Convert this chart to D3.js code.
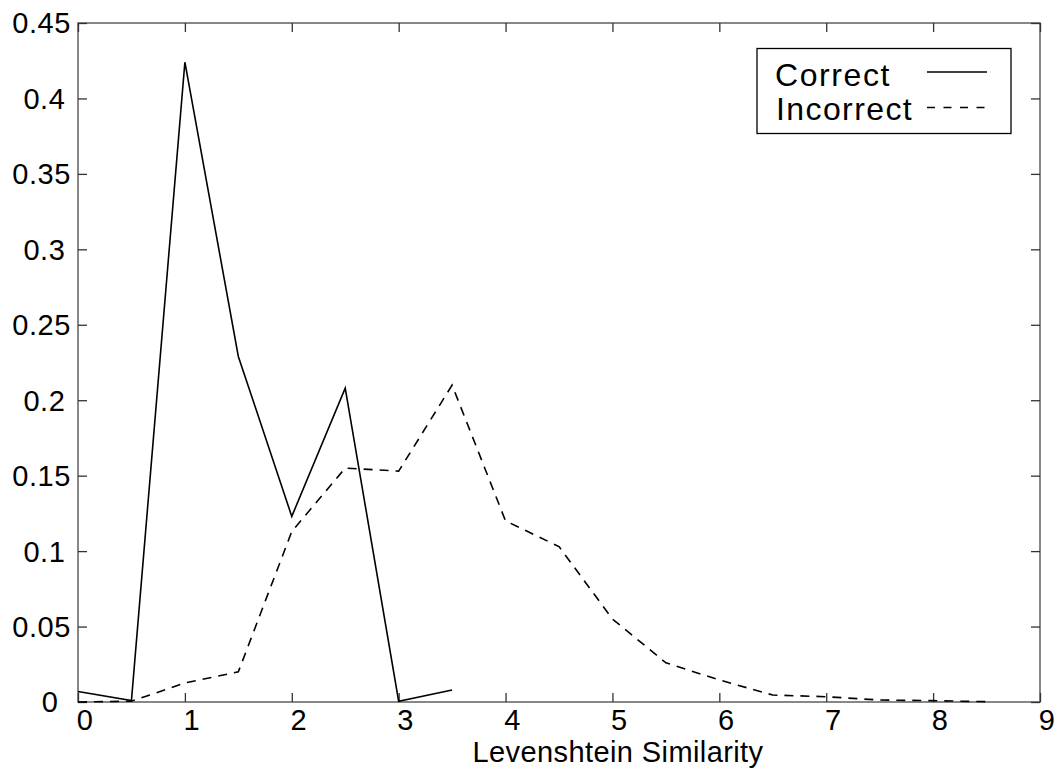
<!DOCTYPE html>
<html>
<head>
<meta charset="utf-8">
<script src="https://cdn.jsdelivr.net/npm/d3@7"></script>
<style>
  html, body { margin: 0; padding: 0; background: #fff; }
  svg text { font-family: "Liberation Sans", Arial, Helvetica, sans-serif; fill: #000; }
</style>
</head>
<body>
<svg id="chart" width="1060" height="772"></svg>
<script>
// Distribution of Levenshtein similarity for correct vs incorrect matches
const xCorrect = [0, 0.5, 1, 1.5, 2, 2.5, 3, 3.5];
const correct = [0.007, 0.0009, 0.424, 0.229, 0.123, 0.208, 0.0005, 0.008];

const xIncorrect = [0, 0.5, 1, 1.5, 2, 2.5, 3, 3.5, 4, 4.5, 5, 5.5, 6, 6.5, 7, 7.5, 8, 8.5];
const incorrect = [0, 0.0005, 0.0126, 0.020, 0.113, 0.155, 0.153, 0.210, 0.120, 0.103,
                   0.055, 0.026, 0.0146, 0.0046, 0.0035, 0.0013, 0.0009, 0.0002];

const xTicks = [0, 1, 2, 3, 4, 5, 6, 7, 8, 9];
const yTicks = [0, 0.05, 0.1, 0.15, 0.2, 0.25, 0.3, 0.35, 0.4, 0.45];
const yTickLabels = ["0", "0.05", "0.1", "0.15", "0.2", "0.25", "0.3", "0.35", "0.4", "0.45"];

const seriesNames = ["Correct", "Incorrect"];
const xTitle = "Levenshtein Similarity";

const svg = d3.select("#chart");
const plotLeft = 78, plotRight = 1040, plotTop = 23, plotBottom = 702;

const x = d3.scaleLinear().domain([0, 9]).range([plotLeft, plotRight]);
const y = d3.scaleLinear().domain([0, 0.45]).range([plotBottom, plotTop]);

const frameColor = "#606060";
const tickLen = 9;

// frame
svg.append("rect")
  .attr("x", plotLeft).attr("y", plotTop)
  .attr("width", plotRight - plotLeft).attr("height", plotBottom - plotTop)
  .attr("fill", "none").attr("stroke", frameColor).attr("stroke-width", 1.5);

// inward ticks on all four sides
function styleAxis(g) {
  g.select(".domain").remove();
  g.selectAll(".tick line").attr("stroke", "#333").attr("stroke-width", 1.3);
  g.selectAll(".tick text").remove();
}
svg.append("g").attr("transform", `translate(0,${plotBottom})`)
  .call(d3.axisBottom(x).tickValues(xTicks).tickSize(-tickLen)).call(styleAxis);
svg.append("g").attr("transform", `translate(0,${plotTop})`)
  .call(d3.axisTop(x).tickValues(xTicks).tickSize(-tickLen)).call(styleAxis);
svg.append("g").attr("transform", `translate(${plotLeft},0)`)
  .call(d3.axisLeft(y).tickValues(yTicks).tickSize(-tickLen)).call(styleAxis);
svg.append("g").attr("transform", `translate(${plotRight},0)`)
  .call(d3.axisRight(y).tickValues(yTicks).tickSize(-tickLen)).call(styleAxis);

// tick labels
svg.append("g").selectAll("text").data(xTicks).join("text")
  .attr("x", d => x(d) + 7)
  .attr("y", 730)
  .attr("text-anchor", "middle")
  .attr("font-size", 29)
  .attr("letter-spacing", 0.5)
  .text(d => d);

svg.append("g").selectAll("text").data(yTicks).join("text")
  .attr("x", (d, i) => 50 - 2.8 * (yTickLabels[i].length - 1))
  .attr("y", d => y(d))
  .attr("dy", "0.36em")
  .attr("text-anchor", "middle")
  .attr("font-size", 29)
  .attr("letter-spacing", 0.5)
  .text((d, i) => yTickLabels[i]);

// axis title
svg.append("text")
  .attr("x", 618).attr("y", 762)
  .attr("text-anchor", "middle")
  .attr("font-size", 29)
  .attr("letter-spacing", 0.4)
  .text(xTitle);

// series lines
const line = d3.line().x(d => x(d[0])).y(d => y(d[1]));
svg.append("path")
  .datum(xCorrect.map((v, i) => [v, correct[i]]))
  .attr("d", line)
  .attr("fill", "none").attr("stroke", "#000").attr("stroke-width", 1.6)
  .attr("stroke-linejoin", "miter");
svg.append("path")
  .datum(xIncorrect.map((v, i) => [v, incorrect[i]]))
  .attr("d", line)
  .attr("fill", "none").attr("stroke", "#000").attr("stroke-width", 1.6)
  .attr("stroke-dasharray", "9,7");

// legend
const lg = svg.append("g");
lg.append("rect")
  .attr("x", 757).attr("y", 48.5).attr("width", 254).attr("height", 85)
  .attr("fill", "#fff").attr("stroke", "#000").attr("stroke-width", 1.3);
lg.append("text").attr("x", 775).attr("y", 86)
  .attr("font-size", 32).attr("letter-spacing", 1.6).text(seriesNames[0]);
lg.append("text").attr("x", 776).attr("y", 120)
  .attr("font-size", 32).attr("letter-spacing", 1.4).text(seriesNames[1]);
lg.append("line").attr("x1", 927).attr("x2", 987).attr("y1", 72).attr("y2", 72)
  .attr("stroke", "#000").attr("stroke-width", 1.6);
lg.append("line").attr("x1", 927).attr("x2", 987).attr("y1", 107.5).attr("y2", 107.5)
  .attr("stroke", "#000").attr("stroke-width", 1.6).attr("stroke-dasharray", "8,8.5");
</script>
</body>
</html>
